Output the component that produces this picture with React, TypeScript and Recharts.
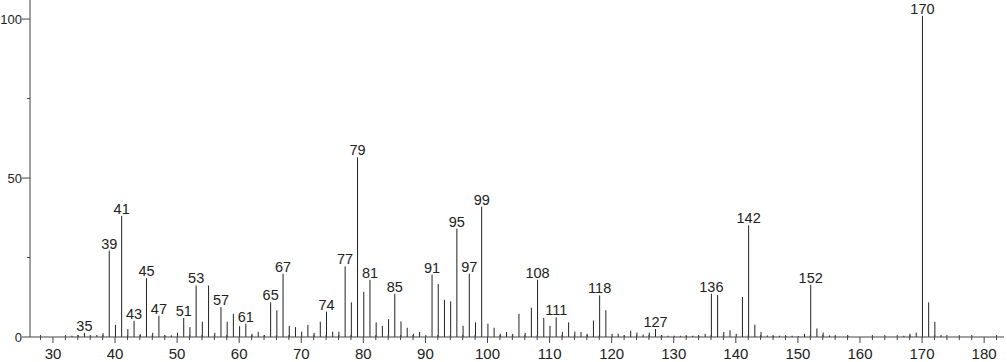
import React from 'react';
import { BarChart, Bar, XAxis, YAxis, LabelList } from 'recharts';

// m/z positions and relative intensities
const mzValues = [
  33, 34, 35, 36, 37, 38, 39, 40, 41, 42, 43, 44, 45, 46, 47, 48, 49, 50,
  51, 52, 53, 54, 55, 56, 57, 58, 59, 60, 61, 62, 63, 64, 65, 66, 67, 68,
  69, 70, 71, 72, 73, 74, 75, 76, 77, 78, 79, 80, 81, 82, 83, 84, 85, 86,
  87, 88, 89, 90, 91, 92, 93, 94, 95, 96, 97, 98, 99, 100, 101, 102, 103,
  104, 105, 106, 107, 108, 109, 110, 111, 112, 113, 114, 115, 116, 117,
  118, 119, 120, 121, 122, 123, 124, 125, 126, 127, 128, 129, 130, 131,
  132, 133, 134, 135, 136, 137, 138, 139, 140, 141, 142, 143, 144, 145,
  146, 147, 148, 149, 150, 151, 152, 153, 154, 155, 156, 158, 167, 168,
  169, 170, 171, 172, 173,
];
const intensities = [
  0.4, 0.6, 1.3, 0.4, 0.6, 1.2, 27.2, 3.8, 38.1, 2.5, 5.1, 0.9, 18.5, 1.3, 6.7, 0.5, 0.5, 1.3,
  6.0, 3.1, 16.2, 4.8, 16.2, 1.3, 9.4, 4.8, 7.3, 3.4, 4.2, 1.0, 1.6, 0.6, 10.9, 8.4, 19.9, 3.5,
  3.1, 1.7, 3.8, 1.3, 4.8, 8.0, 1.7, 1.7, 22.2, 10.9, 56.5, 14.2, 18.0, 4.6, 3.5, 5.6, 13.6, 4.9,
  2.9, 1.0, 1.6, 0.6, 19.6, 16.7, 11.7, 11.2, 34.1, 3.5, 19.9, 4.6, 41.0, 4.2, 2.9, 1.0, 1.6,
  1.0, 7.3, 1.3, 9.2, 18.0, 6.0, 3.5, 6.2, 1.6, 4.6, 1.7, 1.6, 1.0, 5.2,
  13.1, 8.4, 1.0, 1.0, 0.5, 2.0, 1.4, 0.8, 1.4, 2.5, 0.6, 0.4, 0.4, 0.4,
  0.4, 0.4, 0.4, 1.0, 13.6, 13.2, 1.6, 2.1, 1.0, 12.6, 35.1, 3.9, 1.6, 0.5,
  0.3, 0.4, 0.3, 0.4, 0.3, 1.0, 16.4, 2.7, 1.4, 0.5, 0.4, 0.4, 0.4, 1.0,
  1.4, 101, 10.9, 4.8, 0.6,
];
const labeledMz = [
  35, 39, 41, 43, 45, 47, 51, 53, 57, 61, 65, 67, 74, 77, 79, 81, 85, 91, 95,
  97, 99, 108, 111, 118, 127, 136, 142, 152, 170,
];
const xTicks = [28, 30, 32, 34, 36, 38, 40, 42, 44, 46, 48, 50, 52, 54, 56, 58, 60, 62, 64, 66, 68, 70,
  72, 74, 76, 78, 80, 82, 84, 86, 88, 90, 92, 94, 96, 98, 100, 102, 104, 106, 108, 110, 112, 114,
  116, 118, 120, 122, 124, 126, 128, 130, 132, 134, 136, 138, 140, 142, 144, 146, 148, 150, 152,
  154, 156, 158, 160, 162, 164, 166, 168, 170, 172, 174, 176, 178, 180, 182];
const yTicks = [0, 25, 50, 75, 100];

const data = mzValues.map((mz, i) => ({ mz, value: intensities[i] }));

const FONT = '"Liberation Sans", Arial, Helvetica, sans-serif';
const INK = '#222';
const AXIS = '#444';

const XTick = ({ x, y, payload }: any) => {
  const v = payload.value;
  const major = v % 10 === 0;
  return (
    <g>
      {major ? (
        <line x1={x} x2={x} y1={y} y2={y + 6} stroke={AXIS} />
      ) : (
        <line x1={x} x2={x} y1={y - 2} y2={y + 3} stroke={AXIS} />
      )}
      {major && (
        <text x={x} y={y + 22} textAnchor="middle" fontSize={15} fontFamily={FONT} fill={INK}>
          {v}
        </text>
      )}
    </g>
  );
};

const YTick = ({ x, y, payload }: any) => {
  const v = payload.value;
  const major = v % 50 === 0;
  return (
    <g>
      <line x1={x - (major ? 8 : 3)} x2={x} y1={y} y2={y} stroke={AXIS} />
      {major && (
        <text x={x - 8} y={y} dy="0.36em" textAnchor="end" fontSize={13} fontFamily={FONT} fill={INK}>
          {v}
        </text>
      )}
    </g>
  );
};

const Stick = (props: any) => {
  const { x, y, width, height } = props;
  if (height == null || height <= 0) return null;
  const cx = x + width / 2;
  return <line x1={cx} x2={cx} y1={y} y2={y + height} stroke={INK} strokeWidth={1} />;
};

const PeakLabel = (props: any) => {
  const { x, y, width, value } = props;
  if (!labeledMz.includes(value)) return null;
  return (
    <text x={x + width / 2} y={y - 2} textAnchor="middle" fontSize={14.5} fontFamily={FONT} fill={INK}>
      {value}
    </text>
  );
};

export default function App() {
  return (
    <div style={{ position: 'absolute', left: 0, top: 0, background: '#fff' }}>
      <BarChart
        width={1007}
        height={362}
        data={data}
        margin={{ top: 0, right: 3, bottom: 0, left: 0 }}
        barSize={1}
      >
        <XAxis
          dataKey="mz"
          type="number"
          domain={[26.3, 183.2]}
          ticks={xTicks}
          interval={0}
          allowDataOverflow
          height={25}
          tickSize={0}
          tickMargin={0}
          tickLine={false}
          axisLine={{ stroke: AXIS }}
          tick={<XTick />}
        />
        <YAxis
          type="number"
          domain={[0, 106]}
          ticks={yTicks}
          interval={0}
          allowDataOverflow
          width={30}
          tickSize={0}
          tickMargin={0}
          tickLine={false}
          axisLine={{ stroke: AXIS }}
          tick={<YTick />}
        />
        <Bar dataKey="value" shape={<Stick />} isAnimationActive={false}>
          <LabelList dataKey="mz" content={<PeakLabel />} />
        </Bar>
      </BarChart>
    </div>
  );
}
